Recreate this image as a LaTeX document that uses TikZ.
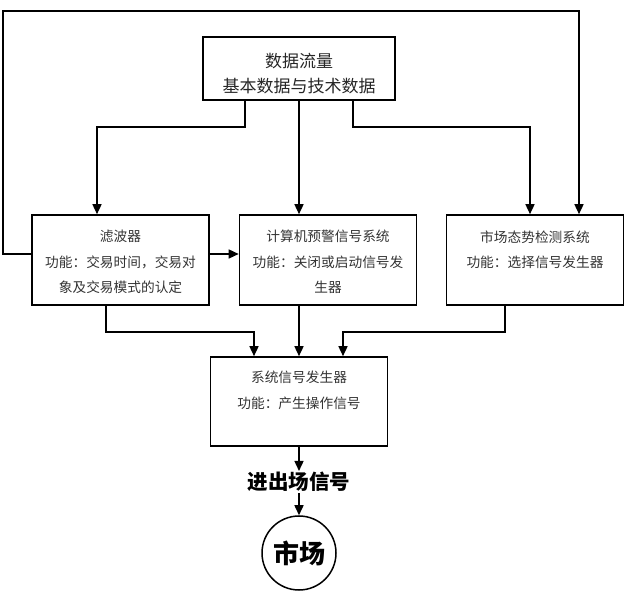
\documentclass[tikz,border=0pt]{standalone}
\usepackage{fontspec}
\newfontfamily\cjk{Noto Sans CJK SC}
\usetikzlibrary{arrows.meta}
\begin{document}
\begin{tikzpicture}[x=1pt,y=1pt,
	box/.style={draw,line width=1.6pt,minimum width=177pt,minimum height=90pt,inner sep=0pt},
	txt/.style={anchor=north,align=center,inner sep=0pt,text=black!80,font=\cjk\fontsize{13.7}{25.5}\selectfont},
	ln/.style={line width=1.5pt},
	arr/.style={ln,-{Triangle[length=10pt,width=9pt]}}]
	\useasboundingbox (0,0) rectangle (632,600);
	\node[box,minimum width=192pt,minimum height=63pt] (data) at (299,531.5) {};
	\node[box] (filter) at (120.5,340) {};
	\node[box] (computer) at (328,340) {};
	\node[box] (market) at (535,340) {};
	\node[box,minimum height=89pt] (system) at (299,198.5) {};
	\node[txt,text=black!85,font=\cjk\fontsize{17}{25}\selectfont] (datatxt) at ([yshift=-17pt]data.north) {数据流量\\基本数据与技术数据};
	\node[txt] (filtertxt) at ([yshift=-16pt]filter.north) {滤波器\\功能：交易时间，交易对\\象及交易模式的认定};
	\node[txt] (computertxt) at ([yshift=-16pt]computer.north) {计算机预警信号系统\\功能：关闭或启动信号发\\生器};
	\node[txt] (markettxt) at ([yshift=-16pt]market.north) {市场态势检测系统\\功能：选择信号发生器};
	\node[txt] (systemtxt) at ([yshift=-15pt]system.north) {系统信号发生器\\功能：产生操作信号};
	\node[inner sep=1pt,font=\cjk\bfseries\fontsize{20.5}{24}\selectfont] (signal) at (299,118) {进出场信号};
	\node[circle,draw,line width=1.5pt,minimum size=74pt,inner sep=0pt,font=\cjk\bfseries\fontsize{26}{30}\selectfont] (shichang) at (299,47) {市场};
	\coordinate (corner) at (3,589);
	% data to the three systems
	\draw[arr] ([xshift=-54pt]data.south) -- ++(0,-26) -| ([xshift=-23.5pt]filter.north);
	\draw[arr] (data.south) -- (data.south |- computer.north);
	\draw[arr] ([xshift=54pt]data.south) -- ++(0,-26) -| ([xshift=-5pt]market.north);
	% feedback and filter
	\draw[arr] ([yshift=6pt]filter.west) -| (corner) -| ([xshift=44pt]market.north);
	\draw[arr] ([yshift=6pt]filter.east) -- ([yshift=6pt]computer.west);
	% into the generator
	\draw[arr] ([xshift=-14.5pt]filter.south) -- ++(0,-26) -| ([xshift=-45pt]system.north);
	\draw[arr] (computer.south -| system.north) -- (system.north);
	\draw[arr] ([xshift=-30pt]market.south) -- ++(0,-26) -| ([xshift=44pt]system.north);
	\draw[arr] (system.south) -- (signal.north);
	\draw[arr] (signal.south) -- (shichang.north);
\end{tikzpicture}
\end{document}
